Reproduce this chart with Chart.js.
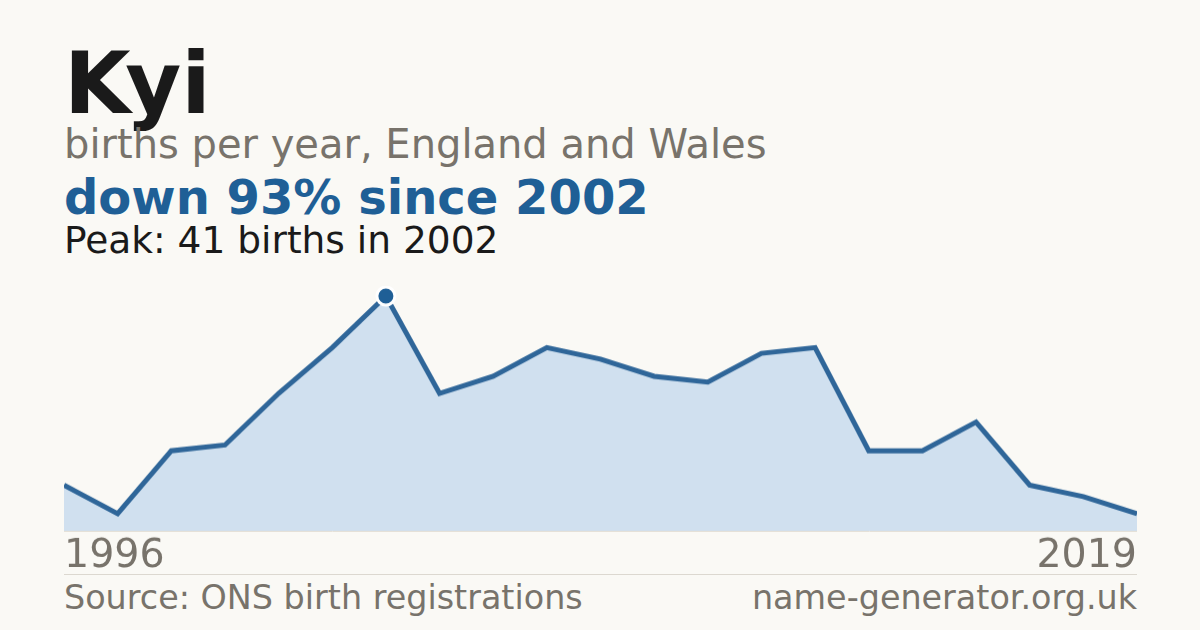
<!DOCTYPE html>
<html>
<head>
<meta charset="utf-8">
<script src="https://cdn.jsdelivr.net/npm/chart.js@4/dist/chart.umd.min.js"></script>
<style>
  html, body { margin: 0; padding: 0; }
  body { width: 1200px; height: 630px; background: #faf9f5; position: relative; overflow: hidden; font-family: "DejaVu Sans", sans-serif; }
  .t { position: absolute; left: 64px; line-height: 1; white-space: nowrap; }
  #title { font-size: 86px; font-weight: bold; color: #1a1a1a; top: 40px; }
  #sub { font-size: 40px; color: #78736b; top: 124px; }
  #headline { font-size: 48px; font-weight: bold; color: #1f5f96; top: 173px; }
  #peak { font-size: 37.5px; color: #1a1a1a; top: 222px; }
  #sep { position: absolute; left: 64px; width: 1073px; top: 574px; height: 1px; background: #dcd8d0; }
  #source { font-size: 33.4px; color: #78736b; top: 581px; }
  #site { font-size: 33.4px; color: #78736b; top: 581px; left: auto; right: 63px; }
  #wrap { position: absolute; left: 64px; top: 286px; width: 1073px; height: 293.5px; }
</style>
</head>
<body>
<div class="t" id="title">Kyi</div>
<div class="t" id="sub">births per year, England and Wales</div>
<div class="t" id="headline">down 93% since 2002</div>
<div class="t" id="peak">Peak: 41 births in 2002</div>
<div id="sep"></div>
<div class="t" id="source">Source: ONS birth registrations</div>
<div class="t" id="site">name-generator.org.uk</div>
<div id="wrap"><canvas id="c"></canvas></div>
<script>
const years = ["1996","1997","1998","1999","2000","2001","2002","2003","2004","2005","2006","2007","2008","2009","2010","2011","2012","2013","2014","2015","2019"];
const births = [8, 3, 14, 15, 24, 32, 41, 24, 27, 32, 30, 27, 26, 31, 32, 14, 14, 19, 8, 6, 3];

const peakIndex = births.indexOf(Math.max(...births));
const lastIndex = years.length - 1;

new Chart(document.getElementById('c'), {
  type: 'line',
  data: {
    labels: years,
    datasets: [{
      data: births,
      borderColor: '#2f6699',
      borderWidth: 5,
      backgroundColor: '#d0e0ef',
      fill: 'origin',
      tension: 0,
      clip: false,
      pointRadius: ctx => ctx.dataIndex === peakIndex ? 9 : 0,
      pointHoverRadius: ctx => ctx.dataIndex === peakIndex ? 9 : 0,
      pointBackgroundColor: '#1f5f96',
      pointBorderColor: '#ffffff',
      pointBorderWidth: 3
    }]
  },
  options: {
    responsive: true,
    maintainAspectRatio: false,
    animation: false,
    events: [],
    layout: { autoPadding: false, padding: { top: 10, left: 0, right: 0, bottom: 0 } },
    plugins: { legend: { display: false }, tooltip: { enabled: false } },
    scales: {
      x: {
        type: 'category',
        offset: false,
        grid: { display: false, drawTicks: true, tickLength: 2 },
        border: { display: true, color: '#e2ddd4', width: 1 },
        ticks: {
          autoSkip: false,
          maxRotation: 0,
          align: 'inner',
          padding: 0,
          color: '#78736b',
          font: { family: 'DejaVu Sans', size: 39.5 },
          callback: (v, i) => (i === 0 || i === lastIndex) ? years[i] : ''
        }
      },
      y: {
        display: false,
        min: 0,
        max: 41
      }
    }
  }
});
</script>
</body>
</html>
